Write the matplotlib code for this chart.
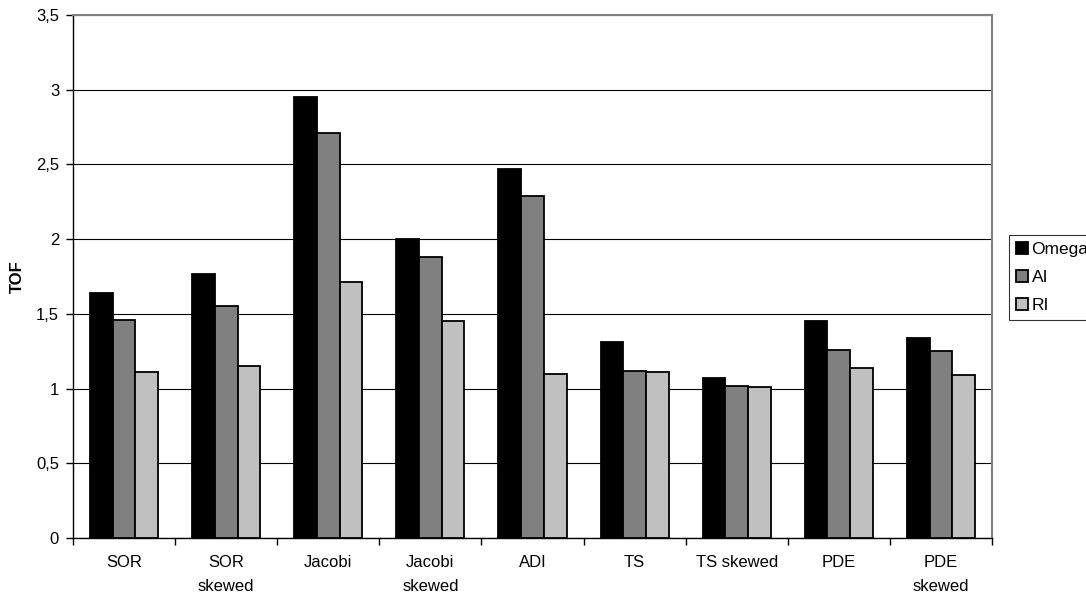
import matplotlib
matplotlib.use("Agg")
import matplotlib.pyplot as plt
import numpy as np

categories = ["SOR", "SOR\nskewed", "Jacobi", "Jacobi\nskewed", "ADI", "TS",
              "TS skewed", "PDE", "PDE\nskewed"]
series_names = ["Omega", "AI", "RI"]
omega = [1.64, 1.77, 2.95, 2.00, 2.47, 1.31, 1.07, 1.45, 1.34]
ai = [1.46, 1.55, 2.71, 1.88, 2.29, 1.12, 1.02, 1.26, 1.25]
ri = [1.11, 1.15, 1.71, 1.45, 1.10, 1.11, 1.01, 1.14, 1.09]
y_ticks = [0, 0.5, 1, 1.5, 2, 2.5, 3, 3.5]
y_tick_labels = ["0", "0,5", "1", "1,5", "2", "2,5", "3", "3,5"]

plt.rcParams["font.family"] = ["Liberation Sans", "DejaVu Sans"]
FS = 12

fig = plt.figure(figsize=(10.86, 5.97), dpi=100)
ax = fig.add_axes([73 / 1086, 1 - 538 / 597, (992 - 73) / 1086, (538 - 15) / 597])

colors = ["#000000", "#808080", "#C0C0C0"]
width = 1 / 4.5
x = np.arange(len(categories))
for i, (vals, name, c) in enumerate(zip([omega, ai, ri], series_names, colors)):
    ax.bar(x + (i - 1) * width, vals, width, color=c, edgecolor="black",
           linewidth=1.3, label=name, zorder=3)

ax.set_xlim(-0.5, len(categories) - 0.5)
ax.set_ylim(0, 3.5)
ax.set_yticks(y_ticks)
ax.set_yticklabels(y_tick_labels, fontsize=FS)
ax.yaxis.grid(True, color="black", linewidth=0.8, zorder=0)

# category labels centred, tick marks on the boundaries
ax.set_xticks(x)
ax.set_xticklabels(categories, fontsize=FS, linespacing=1.75, va="top")
ax.tick_params(axis="x", length=0, pad=12)
ax.set_xticks(np.arange(-0.5, len(categories) + 0.5, 1), minor=True)
ax.tick_params(axis="x", which="minor", length=5, direction="out", width=1)
ax.tick_params(axis="y", length=5, direction="out", width=1, pad=5)

for side in ["top", "right"]:
    ax.spines[side].set_color("#808080")
    ax.spines[side].set_linewidth(1.5)
for side in ["left", "bottom"]:
    ax.spines[side].set_color("black")
    ax.spines[side].set_linewidth(1)

ax.set_ylabel("TOF", fontsize=FS, fontweight="bold", labelpad=8)

leg = fig.legend(loc="upper left", bbox_to_anchor=(1009 / 1086, 1 - 235 / 597),
                 fontsize=FS + 0.5, frameon=True, fancybox=False, edgecolor="black",
                 handlelength=0.7, handleheight=0.7, handletextpad=0.2,
                 borderpad=0.4, labelspacing=0.75, borderaxespad=0)
leg.get_frame().set_linewidth(0.8)

fig.savefig("out.png", dpi=100)
